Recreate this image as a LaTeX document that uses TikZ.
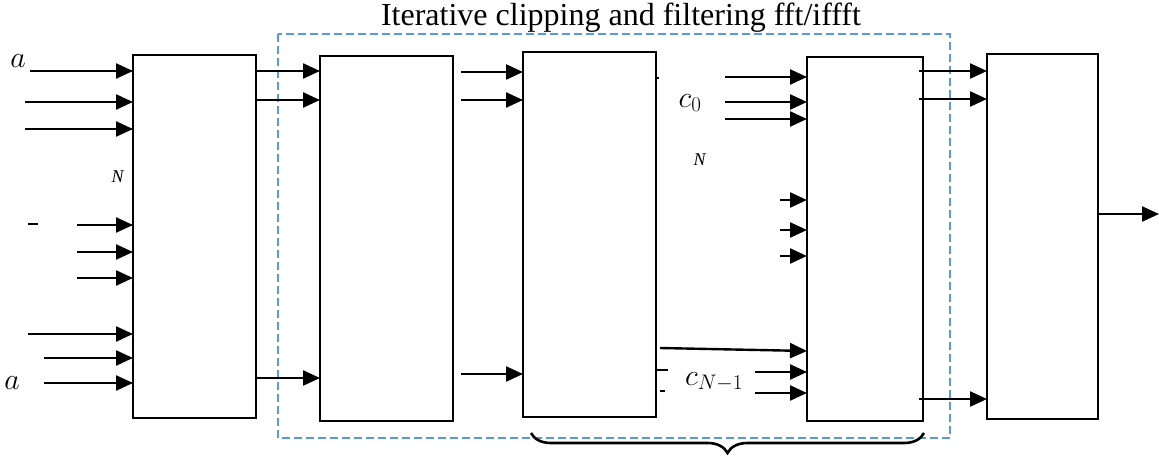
\documentclass[tikz,border=0pt]{standalone}
\usepackage{fix-cm}
\usepackage{fontspec}
\setmainfont{Liberation Serif}
\usetikzlibrary{arrows.meta,decorations.pathreplacing,calc}
\begin{document}
\begin{tikzpicture}[x=1pt,y=-1pt,
  box/.style={draw, line width=2.6pt, inner sep=0pt, outer sep=0pt},
  arr/.style={line width=2.4pt, -{Triangle[length=17pt,width=15pt]}},
  tick/.style={line width=1.8pt},
  lbl/.style={font=\fontsize{30}{34}\selectfont, inner sep=0pt},
  nlbl/.style={font=\fontsize{18}{20}\selectfont, inner sep=0pt},
  grp/.style={draw={rgb,255:red,91;green,155;blue,213}, line width=1.2pt, dash pattern=on 8pt off 4pt}]
\useasboundingbox (0,0) rectangle (1159,457);
% boxes
\node[box, minimum width=123pt, minimum height=363pt] (b1) at (194.5,236.5) {};
\node[box, minimum width=133pt, minimum height=365pt] (b2) at (386.5,238.5) {};
\node[box, minimum width=133pt, minimum height=365pt] (b3) at (589.5,234.5) {};
\node[box, minimum width=116pt, minimum height=364pt] (b4) at (865,239) {};
\node[box, minimum width=111pt, minimum height=365pt] (b5) at (1042.5,236.5) {};
% group frame and title
\draw[grp] (278,34) rectangle (950,438);
\node[font=\fontsize{32}{36}\selectfont, inner sep=0pt] (title) at (621,18) {Iterative clipping and filtering fft/iffft};
\draw[line width=2.6pt, decorate, decoration={brace, mirror, amplitude=20pt}] (531,433) -- (924,433);
% inputs of box 1
\foreach \x/\y in {30/71, 25/102, 25/129, 77/225, 77/252, 77/278, 28/334, 44/358, 44/383}
  \draw[arr] (\x,\y) -- (b1.west |- 0,\y);
\node[lbl] (a0) at (18,61) {$a$};
\node[lbl] (a1) at (12,383) {$a$};
\node[nlbl] (n1) at (118,177) {\textit{N}};
\draw[tick] (28,224) -- (38,224);
% box1 -> box2
\foreach \y in {71, 100, 378}
  \draw[arr] (b1.east |- 0,\y) -- (b2.west |- 0,\y);
% box2 -> box3
\foreach \y in {72, 100, 374}
  \draw[arr] ($(b2.east |- 0,\y)+(8,0)$) -- (b3.west |- 0,\y);
% box3 -> box4
\foreach \x/\y in {725/77, 725/102, 725/119, 780/200, 780/230, 780/256, 755/372, 755/393}
  \draw[arr] (\x,\y) -- (b4.west |- 0,\y);
\draw[arr] ($(b3.east |- 0,348)+(4,0)$) -- (b4.west |- 0,351);
\draw[tick] (b3.east |- 0,78) -- ++(3,0);
\draw[tick] (b3.east |- 0,370) -- ++(12,0);
\draw[tick] ($(b3.east |- 0,391)+(4,0)$) -- ++(5,0);
\node[lbl] (c0) at (690,103) {$c_0$};
\node[nlbl] (n2) at (700,160) {\textit{N}};
\node[lbl] (cn) at (714,382) {$c_{N-1}$};
% box4 -> box5
\foreach \y in {71, 99, 399}
  \draw[arr] ($(b4.east |- 0,\y)-(4,0)$) -- (b5.west |- 0,\y);
% output
\coordinate (out) at (1159,214);
\draw[arr] (b5.east |- out) -- (out);
\end{tikzpicture}
\end{document}
